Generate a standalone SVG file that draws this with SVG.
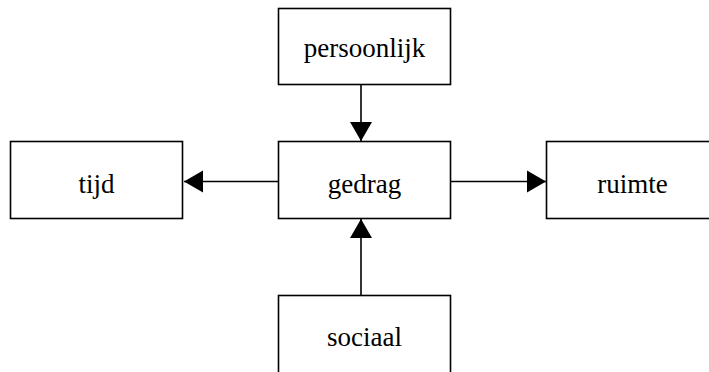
<svg xmlns="http://www.w3.org/2000/svg" width="709" height="372" viewBox="0 0 709 372">
<style>
.box{fill:#fff;stroke:#000;stroke-width:1.6}
.lbl{font-family:"Liberation Serif","Times New Roman",serif;font-size:27px;fill:#000;text-anchor:middle}
.edge{stroke:#000;stroke-width:1.6;fill:none}
</style>
<defs>
<marker id="arr" markerUnits="userSpaceOnUse" markerWidth="20" markerHeight="24" refX="19" refY="11" orient="auto" viewBox="0 0 20 22">
<path d="M0,0 L19,11 L0,22 Z" fill="#000"/>
</marker>
</defs>
<g id="connectors">
<line class="edge" x1="361" y1="84" x2="361" y2="141" marker-end="url(#arr)"/>
<line class="edge" x1="278" y1="181.5" x2="184" y2="181.5" marker-end="url(#arr)"/>
<line class="edge" x1="451" y1="181.5" x2="546" y2="181.5" marker-end="url(#arr)"/>
<line class="edge" x1="361" y1="295" x2="361" y2="219" marker-end="url(#arr)"/>
</g>
<g id="persoonlijk">
<rect class="box" x="278.5" y="8.5" width="172" height="76"/>
<text class="lbl" x="364.5" y="57">persoonlijk</text>
</g>
<g id="gedrag">
<rect class="box" x="278.5" y="141.5" width="172" height="77"/>
<text class="lbl" x="364.5" y="193">gedrag</text>
</g>
<g id="tijd">
<rect class="box" x="10.5" y="141.5" width="172" height="77"/>
<text class="lbl" x="96.5" y="193">tijd</text>
</g>
<g id="ruimte">
<rect class="box" x="546.5" y="141.5" width="172" height="77"/>
<text class="lbl" x="632.5" y="193">ruimte</text>
</g>
<g id="sociaal">
<rect class="box" x="278.5" y="295.5" width="172" height="78"/>
<text class="lbl" x="364.5" y="346">sociaal</text>
</g>
</svg>
